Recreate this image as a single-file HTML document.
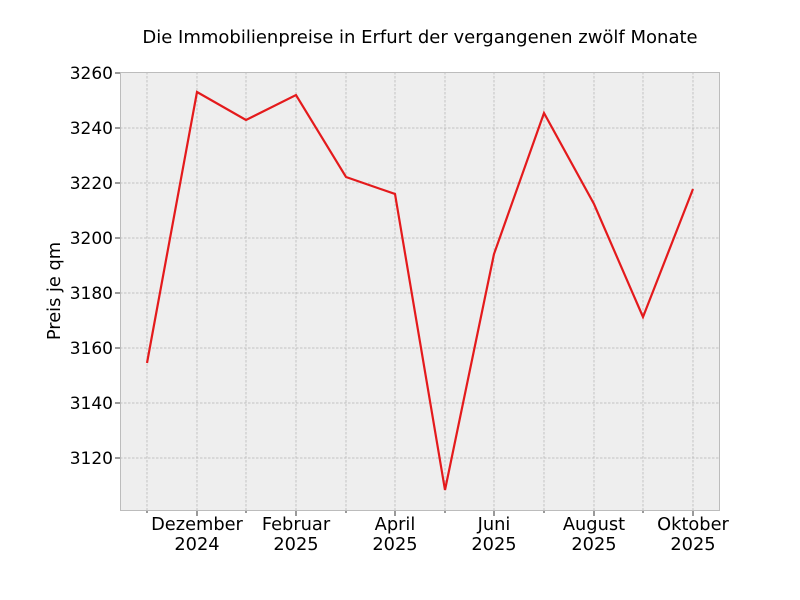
<!DOCTYPE html>
<html><head><style>body{margin:0;background:#fff}svg{display:block}text{font-family:"DejaVu Sans","Liberation Sans",sans-serif;fill:#000}</style></head>
<body>
<svg width="800" height="600" xmlns="http://www.w3.org/2000/svg">
<rect x="120.5" y="72.5" width="599" height="438" fill="#eeeeee"/>
<g stroke="#b2b2b2" stroke-width="0.7" stroke-dasharray="2.5,1.5">
<line x1="147" y1="72" x2="147" y2="510"/><line x1="197" y1="72" x2="197" y2="510"/><line x1="246" y1="72" x2="246" y2="510"/><line x1="296" y1="72" x2="296" y2="510"/><line x1="346" y1="72" x2="346" y2="510"/><line x1="395" y1="72" x2="395" y2="510"/><line x1="445" y1="72" x2="445" y2="510"/><line x1="494" y1="72" x2="494" y2="510"/><line x1="544" y1="72" x2="544" y2="510"/><line x1="594" y1="72" x2="594" y2="510"/><line x1="643" y1="72" x2="643" y2="510"/><line x1="693" y1="72" x2="693" y2="510"/>
<line x1="120" y1="128" x2="720" y2="128"/><line x1="120" y1="183" x2="720" y2="183"/><line x1="120" y1="238" x2="720" y2="238"/><line x1="120" y1="293" x2="720" y2="293"/><line x1="120" y1="348" x2="720" y2="348"/><line x1="120" y1="403" x2="720" y2="403"/><line x1="120" y1="458" x2="720" y2="458"/>
</g>
<rect x="120.5" y="72.5" width="599" height="438" fill="none" stroke="#bcbcbc" stroke-width="1"/>
<g stroke="#000" stroke-width="0.8">
<line x1="115" y1="73" x2="120" y2="73"/><line x1="115" y1="128" x2="120" y2="128"/><line x1="115" y1="183" x2="120" y2="183"/><line x1="115" y1="238" x2="120" y2="238"/><line x1="115" y1="293" x2="120" y2="293"/><line x1="115" y1="348" x2="120" y2="348"/><line x1="115" y1="403" x2="120" y2="403"/><line x1="115" y1="458" x2="120" y2="458"/>
<line x1="197" y1="511" x2="197" y2="516"/><line x1="296" y1="511" x2="296" y2="516"/><line x1="395" y1="511" x2="395" y2="516"/><line x1="494" y1="511" x2="494" y2="516"/><line x1="594" y1="511" x2="594" y2="516"/><line x1="693" y1="511" x2="693" y2="516"/>
<line x1="147" y1="511" x2="147" y2="513"/><line x1="246" y1="511" x2="246" y2="513"/><line x1="346" y1="511" x2="346" y2="513"/><line x1="445" y1="511" x2="445" y2="513"/><line x1="544" y1="511" x2="544" y2="513"/><line x1="643" y1="511" x2="643" y2="513"/>
</g>
<polyline fill="none" stroke="#e41a1c" stroke-width="2.2" stroke-linejoin="miter" points="147,363 197,92 246,120 296,95 346,177 395,194 445,490 494,254 544,113 594,204 643,317 693,189"/>
<g font-size="17" text-anchor="end">
<text x="113" y="79">3260</text><text x="113" y="134">3240</text><text x="113" y="189">3220</text><text x="113" y="244">3200</text><text x="113" y="299">3180</text><text x="113" y="354">3160</text><text x="113" y="409">3140</text><text x="113" y="464">3120</text>
</g>
<g font-size="17.8" text-anchor="middle">
<text x="197" y="530">Dezember</text><text x="197" y="550">2024</text>
<text x="296" y="530">Februar</text><text x="296" y="550">2025</text>
<text x="395" y="530">April</text><text x="395" y="550">2025</text>
<text x="494" y="530">Juni</text><text x="494" y="550">2025</text>
<text x="594" y="530">August</text><text x="594" y="550">2025</text>
<text x="693" y="530">Oktober</text><text x="693" y="550">2025</text>
</g>
<text x="60" y="291" font-size="17.8" text-anchor="middle" transform="rotate(-90 60 291)">Preis je qm</text>
<text x="420" y="43" font-size="18" text-anchor="middle">Die Immobilienpreise in Erfurt der vergangenen zwölf Monate</text>
</svg>
</body></html>
